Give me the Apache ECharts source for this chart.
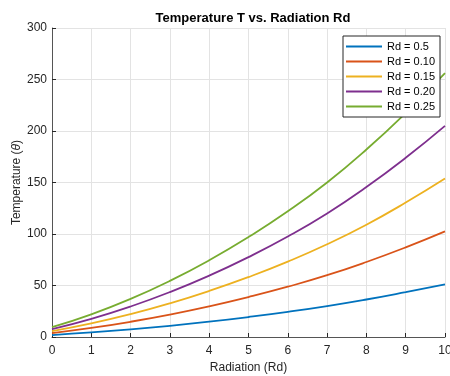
<!DOCTYPE html>
<html>
<head>
<meta charset="utf-8">
<script src="https://cdn.jsdelivr.net/npm/echarts@6/dist/echarts.min.js"></script>
<style>
  html, body { margin: 0; padding: 0; background: #fff; }
  #chart { width: 450px; height: 376px; }
</style>
</head>
<body>
<div id="chart"></div>
<script>
// values
const xValues = [0, 1, 2, 3, 4, 5, 6, 7, 8, 9, 10];
const seriesNames = ['Rd = 0.5', 'Rd = 0.10', 'Rd = 0.15', 'Rd = 0.20', 'Rd = 0.25'];
const rd05 = [1.9, 4.4, 7.4, 10.9, 14.9, 19.4, 24.4, 30.0, 36.4, 43.5, 51.0];
const rd10 = [3.8, 8.8, 14.8, 21.8, 29.8, 38.8, 48.8, 60.0, 72.8, 87.0, 102.5];
const rd15 = [5.7, 13.2, 22.2, 32.7, 44.7, 58.2, 73.2, 90.0, 109.0, 130.5, 153.8];
const rd20 = [7.6, 17.6, 29.6, 43.6, 59.6, 77.6, 97.6, 120.0, 145.6, 174.0, 205.0];
const rd25 = [9.5, 22.0, 37.0, 54.5, 74.5, 97.0, 122.0, 150.0, 182.0, 217.5, 256.3];
const colors = ['#0072BD', '#D95319', '#EDB120', '#7E2F8E', '#77AC30'];

const allData = [rd05, rd10, rd15, rd20, rd25];
const font = 'Liberation Sans';

let chart = echarts.init(document.getElementById('chart'), null, { renderer: 'canvas' });

let option = {
  animation: false,
  color: colors,
  title: {
    text: 'Temperature T vs. Radiation Rd',
    left: 248,
    textAlign: 'center',
    top: 7,
    textStyle: { fontFamily: font, fontSize: 13, fontWeight: 'bold', color: '#000' }
  },
  legend: {
    orient: 'vertical',
    left: 343,
    top: 36,
    icon: 'rect',
    itemWidth: 36,
    itemHeight: 2,
    itemGap: 2,
    padding: [4, 5, 4, 3],
    backgroundColor: '#fff',
    borderColor: '#262626',
    borderWidth: 1,
    borderRadius: 0,
    textStyle: { fontFamily: font, fontSize: 11, color: '#000', lineHeight: 13 },
    data: seriesNames
  },
  grid: { left: 52, right: 5, top: 28, bottom: 39, containLabel: false, outerBoundsMode: 'none' },
  xAxis: {
    type: 'value',
    min: 0,
    max: 10,
    interval: 1,
    name: 'Radiation (Rd)',
    nameLocation: 'middle',
    nameGap: 25,
    nameMoveOverlap: false,
    nameTextStyle: { fontFamily: font, fontSize: 12, color: '#262626' },
    axisLine: { lineStyle: { color: '#555', width: 1 } },
    axisTick: { inside: true, length: 4, lineStyle: { color: '#262626' } },
    axisLabel: { fontFamily: font, fontSize: 12, color: '#262626', margin: 8 },
    splitLine: { show: true, lineStyle: { color: '#e3e3e3', width: 1 } }
  },
  yAxis: {
    type: 'value',
    min: 0,
    max: 300,
    interval: 50,
    name: 'Temperature ({i|θ})',
    nameLocation: 'middle',
    nameGap: 29,
    nameRotate: 90,
    nameMoveOverlap: false,
    nameTextStyle: {
      fontFamily: font, fontSize: 12, color: '#262626',
      rich: { i: { fontFamily: font, fontSize: 12, fontStyle: 'italic', color: '#262626' } }
    },
    axisLine: { show: true, lineStyle: { color: '#555', width: 1 } },
    axisTick: { show: true, inside: true, length: 4, lineStyle: { color: '#262626' } },
    axisLabel: { fontFamily: font, fontSize: 12, color: '#262626', margin: 5 },
    splitLine: { show: true, lineStyle: { color: '#e3e3e3', width: 1 } }
  },
  series: seriesNames.map(function (name, i) {
    return {
      name: name,
      type: 'line',
      symbol: 'none',
      smooth: true,
      lineStyle: { width: 1.8, color: colors[i] },
      data: xValues.map(function (x, j) { return [x, allData[i][j]]; })
    };
  })
};

chart.setOption(option);
</script>
</body>
</html>
